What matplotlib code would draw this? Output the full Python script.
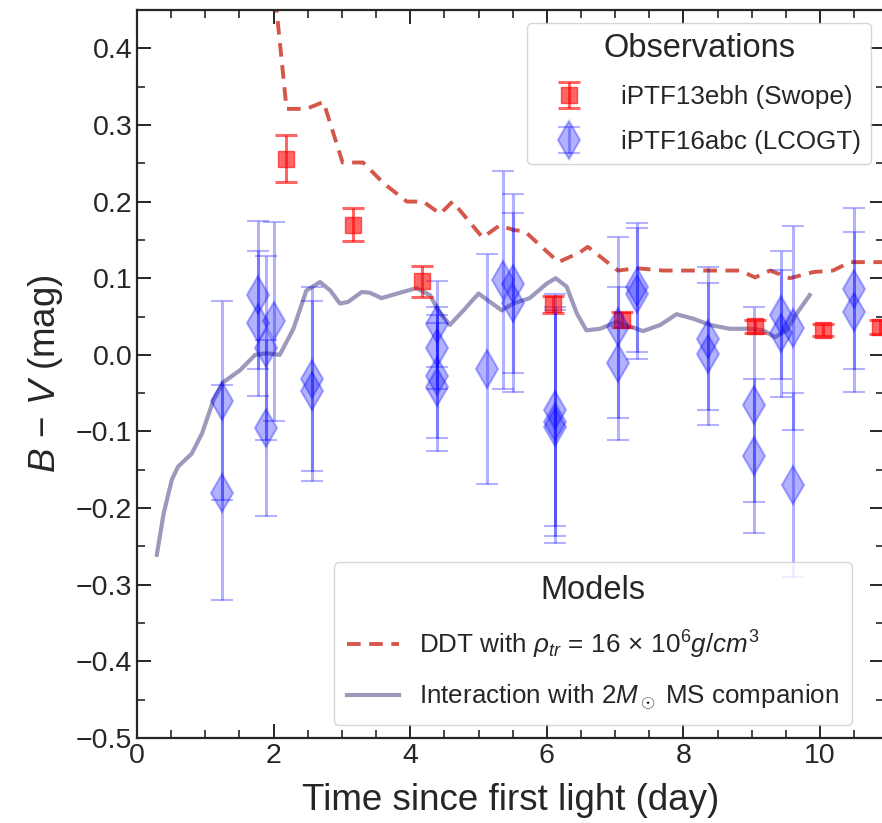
import numpy as np
import matplotlib
matplotlib.use('Agg')
import matplotlib.pyplot as plt

plt.rcParams['font.family'] = ['Liberation Sans', 'DejaVu Sans']
plt.rcParams['mathtext.fontset'] = 'custom'
plt.rcParams['mathtext.rm'] = 'Liberation Sans'
plt.rcParams['mathtext.it'] = 'Liberation Sans:italic'
plt.rcParams['mathtext.bf'] = 'Liberation Sans:bold'
plt.rcParams['text.color'] = '0.15'
plt.rcParams['axes.labelcolor'] = '0.15'
plt.rcParams['xtick.color'] = '0.15'
plt.rcParams['ytick.color'] = '0.15'

# iPTF13ebh (Swope) B-V colours
swope_t = [2.18, 3.16, 4.17, 6.09, 7.10, 9.05, 10.04, 10.88]
swope_bv = [0.256, 0.170, 0.096, 0.066, 0.046, 0.037, 0.032, 0.036]
swope_err = [0.031, 0.021, 0.020, 0.011, 0.010, 0.009, 0.008, 0.009]

# iPTF16abc (LCOGT) B-V colours
lco_t = [1.24, 1.24, 1.77, 1.77, 1.89, 1.89, 2.01, 2.56, 2.56,
         4.39, 4.39, 4.39, 4.39, 5.12, 5.36, 5.51, 5.51,
         6.12, 6.12, 6.12, 7.04, 7.04, 7.32, 7.32, 8.36, 8.36,
         9.03, 9.03, 9.43, 9.43, 9.61, 9.61, 10.50, 10.50]
lco_bv = [-0.060, -0.180, 0.078, 0.041, 0.009, -0.095, 0.044, -0.032, -0.047,
          0.040, 0.009, -0.028, -0.042, -0.018, 0.098, 0.093, 0.068,
          -0.072, -0.087, -0.094, 0.036, -0.011, 0.088, 0.080, 0.021, 0.001,
          -0.065, -0.132, 0.052, 0.028, 0.035, -0.170, 0.086, 0.056]
lco_err = [0.130, 0.140, 0.097, 0.095, 0.120, 0.115, 0.130, 0.120, 0.117,
           0.056, 0.054, 0.080, 0.084, 0.150, 0.142, 0.117, 0.117,
           0.152, 0.150, 0.152, 0.118, 0.100, 0.084, 0.086, 0.093, 0.093,
           0.127, 0.100, 0.083, 0.083, 0.133, 0.120, 0.105, 0.104]

# DDT model, rho_tr = 16e6 g/cm^3
ddt_t = [1.93, 2.19, 2.48, 2.73, 3.01, 3.31, 3.61, 3.95, 4.19, 4.44, 4.62,
         5.06, 5.31, 5.51, 5.68, 6.17, 6.49, 6.60, 7.04, 7.32, 7.70, 8.83,
         9.05, 9.27, 9.56, 9.90, 10.19, 10.44, 11.0]
ddt_bv = [0.55, 0.321, 0.321, 0.330, 0.251, 0.251, 0.224, 0.200, 0.200, 0.184, 0.200,
          0.153, 0.169, 0.163, 0.161, 0.121, 0.134, 0.141, 0.110, 0.113, 0.110, 0.110,
          0.101, 0.110, 0.100, 0.108, 0.110, 0.121, 0.121]

# companion interaction model, 2 Msun MS
int_t = [0.29, 0.39, 0.51, 0.60, 0.80, 0.95, 1.12, 1.26, 1.51, 1.73, 1.90, 2.09,
         2.29, 2.48, 2.68, 2.83, 2.97, 3.09, 3.29, 3.41, 3.58, 3.85, 4.09, 4.29,
         4.41, 4.58, 4.78, 5.00, 5.34, 5.51, 5.75, 6.00, 6.13, 6.29, 6.44, 6.58,
         6.78, 7.02, 7.22, 7.41, 7.66, 7.90, 8.15, 8.39, 8.68, 8.98, 9.17, 9.34,
         9.51, 9.66, 9.85]
int_bv = [-0.261, -0.207, -0.163, -0.146, -0.129, -0.103, -0.059, -0.036, -0.020,
          0.000, 0.002, 0.000, 0.034, 0.084, 0.095, 0.084, 0.067, 0.069, 0.082,
          0.081, 0.074, 0.081, 0.087, 0.078, 0.058, 0.039, 0.058, 0.080, 0.058,
          0.067, 0.074, 0.093, 0.100, 0.089, 0.054, 0.032, 0.034, 0.043, 0.037,
          0.031, 0.039, 0.053, 0.047, 0.039, 0.034, 0.034, 0.032, 0.023, 0.032,
          0.054, 0.078]

fig = plt.figure(figsize=(8.82, 8.23), dpi=100)
ax = fig.add_axes([137 / 882, 85 / 823, 747 / 882, 728 / 823])

l1, = ax.plot(ddt_t, ddt_bv, ls=(0, (3.5, 2.2)), color='#d4574a', lw=2.8,
              label=r'DDT with $\rho_{tr}\,=\,16\,\times\,10^6 g/cm^3$', zorder=2)
l2, = ax.plot(int_t, int_bv, color='#9c99bd', lw=3,
              label=r'Interaction with $2M_\odot$ MS companion', zorder=2)

e1 = ax.errorbar(swope_t, swope_bv, yerr=swope_err, fmt='s', color='red', alpha=0.6,
                 ms=12, capsize=8, elinewidth=2.2, capthick=2.2,
                 label='iPTF13ebh (Swope)', zorder=3)
e2 = ax.errorbar(lco_t, lco_bv, yerr=lco_err, fmt='d', color='blue', alpha=0.3,
                 ms=19, mew=1.5, capsize=8, elinewidth=2.2, capthick=2.2,
                 label='iPTF16abc (LCOGT)', zorder=3)

ax.set_xlim(0, 747 / 68.3)
ax.set_ylim(-0.5, 0.45)
ax.set_xticks(np.arange(0, 11, 2))
ax.set_xticks(np.arange(0, 11, 0.5), minor=True)
ax.set_yticks(np.arange(-0.5, 0.41, 0.1))
ax.set_yticks(np.arange(-0.5, 0.45, 0.05), minor=True)
ax.tick_params(which='both', direction='in', top=True, right=True, labelsize=20.5)
ax.tick_params(which='major', length=10, width=1.4)
ax.tick_params(which='minor', length=6, width=1.2)
for s in ax.spines.values():
    s.set_linewidth(1.6)
    s.set_color('0.15')

ax.set_xlabel('Time since first light (day)', fontsize=26.5, labelpad=10)
ax.set_ylabel(r'$B\,-\,V$ (mag)', fontsize=26.5, labelpad=8)

leg1 = ax.legend(handles=[e1, e2], title='Observations', loc='upper right',
                 fontsize=18.7, title_fontsize=23.5, labelspacing=0.8,
                 handlelength=2.4, framealpha=0.8, edgecolor='0.8')
ax.add_artist(leg1)
ax.legend(handles=[l1, l2], title='Models', loc='lower right',
          bbox_to_anchor=(0.975, 0.0), fontsize=18.7, title_fontsize=23.5,
          labelspacing=0.85, borderpad=0.5, framealpha=0.8, edgecolor='0.8')

fig.savefig('out.png', dpi=100)
